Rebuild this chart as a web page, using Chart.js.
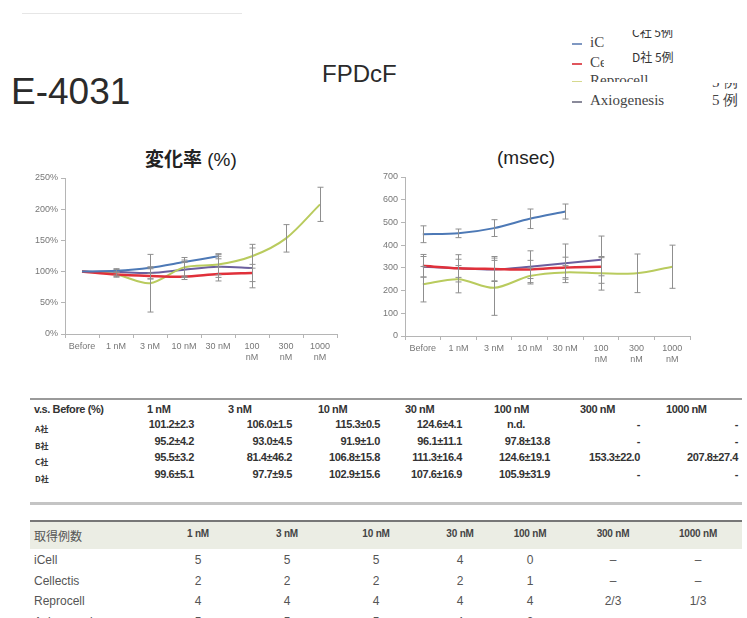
<!DOCTYPE html>
<html>
<head>
<meta charset="utf-8">
<script src="https://cdn.jsdelivr.net/npm/chart.js@4.4.1/dist/chart.umd.min.js"></script>
<style>
  body { margin: 0; width: 747px; height: 618px; background: #fff; overflow: hidden; position: relative;
         font-family: "Liberation Sans", Arial, sans-serif; color: #333; }
  .abs { position: absolute; white-space: nowrap; }
  .legend { font-family: "Liberation Serif", serif; font-size: 15px; color: #444; line-height: 18px; }
  .dash { display: inline-block; width: 10px; height: 2px; vertical-align: middle; margin-right: 8px; }
  .t1 { font-size: 11px; font-weight: bold; color: #333; letter-spacing: -0.4px; }
  .t1lab { font-size: 8px; font-weight: bold; color: #333; font-family: "Noto Sans CJK JP", sans-serif; }
  .t2 { font-size: 12px; color: #555; }
  .t2h { font-size: 10px; font-weight: bold; color: #444; letter-spacing: -0.2px; }
  .r { text-align: right; }
  .c { text-align: center; }
</style>
</head>
<body>
<div class="abs" style="left:22px;top:13px;width:220px;height:1px;background:#e6e6e6"></div>

<div class="abs" style="left:11px;top:74px;font-size:37px;line-height:36px;color:#2b2b2b">E-4031</div>
<div class="abs" style="left:322px;top:61px;font-size:24px;line-height:26px;color:#2b2b2b">FPDcF</div>

<!-- legend with pasted-over labels -->
<div class="abs legend" style="left:572px;top:33px"><span class="dash" style="background:#7f98c2"></span>iCell</div>
<div class="abs legend" style="left:572px;top:53px"><span class="dash" style="background:#e0555c"></span>Cellectis</div>
<div class="abs" style="left:572px;top:71px;height:11px;overflow:hidden">
  <div class="legend"><span class="dash" style="background:#d6d98e"></span>Reprocell</div>
</div>
<div class="abs legend" style="left:572px;top:91px"><span class="dash" style="background:#8a8a9a"></span>Axiogenesis</div>
<div class="abs legend" style="left:712px;top:91px">5 例</div>
<div class="abs" style="left:712px;top:83px;height:7px;overflow:hidden;width:30px">
  <div class="legend" style="margin-top:-10px">5 例</div>
</div>
<div class="abs" style="left:604px;top:24px;width:96px;height:45px;background:#fff"></div>
<div class="abs" style="left:632px;top:30px;height:10px;overflow:hidden">
  <div style="font-family:'Noto Sans CJK JP',sans-serif;font-size:12px;line-height:16px;color:#333;margin-top:-6px">C社 5例</div>
</div>
<div class="abs" style="left:632px;top:49px;font-family:'Noto Sans CJK JP',sans-serif;font-size:12px;line-height:16px;color:#333">D社 5例</div>

<!-- chart titles -->
<div class="abs" style="left:145px;top:146px;font-size:19px;line-height:24px;color:#222"><span style="font-family:'Noto Sans CJK JP',sans-serif;font-weight:bold">変化率</span> (%)</div>
<div class="abs" style="left:497px;top:146px;font-size:19px;line-height:24px;color:#222">(msec)</div>

<canvas id="rateChart" class="abs" style="left:10px;top:165px" width="340" height="210"></canvas>
<canvas id="msecChart" class="abs" style="left:360px;top:165px" width="340" height="210"></canvas>

<!-- table 1 -->
<div class="abs" style="left:30px;top:398px;width:712px;height:2px;background:#9a9a9a"></div>
<div id="table1"></div>
<div class="abs" style="left:30px;top:502px;width:712px;height:3px;background:#c4c4c4"></div>

<!-- table 2 -->
<div class="abs" style="left:30px;top:520px;width:712px;height:27px;background:#ebede4;border-top:2px solid #777"></div>
<div id="table2"></div>

<script>
const categories = ["Before", "1 nM", "3 nM", "10 nM", "30 nM", ["100", "nM"], ["300", "nM"], ["1000", "nM"]];
const seriesNames = ["iCell", "Cellectis", "Reprocell", "Axiogenesis"];
const seriesColors = ["#4d79b6", "#e0303a", "#b9cb5e", "#6b5f9e"];

// 変化率 (%) : mean and SD
const rateICell = [100, 101.2, 106.0, 115.3, 124.6, null, null, null];
const rateICellErr = [0, 2.3, 1.5, 0.5, 4.1, 0, 0, 0];
const rateCellectis = [100, 95.2, 93.0, 91.9, 96.1, 97.8, null, null];
const rateCellectisErr = [0, 4.2, 4.5, 1.0, 11.1, 13.8, 0, 0];
const rateReprocell = [100, 95.5, 81.4, 106.8, 111.3, 124.6, 153.3, 207.8];
const rateReprocellErr = [0, 3.2, 46.2, 15.8, 16.4, 19.1, 22.0, 27.4];
const rateAxio = [100, 99.6, 97.7, 102.9, 107.6, 105.9, null, null];
const rateAxioErr = [0, 5.1, 9.5, 15.6, 16.9, 31.9, 0, 0];

// FPDcF (msec)
const msecICell = [448, 452, 475, 516, 548, null, null, null];
const msecICellErr = [37, 19, 37, 43, 33, 0, 0, 0];
const msecCellectis = [309, 298, 295, 293, 302, 305, null, null];
const msecCellectisErr = [50, 60, 55, 40, 45, 40, 0, 0];
const msecReprocell = [228, 250, 212, 264, 280, 276, 276, 305];
const msecReprocellErr = [78, 60, 121, 35, 30, 74, 85, 95];
const msecAxio = [305, 298, 293, 305, 320, 336, null, null];
const msecAxioErr = [45, 40, 50, 70, 85, 104, 0, 0];

// tables
const tableDoses = ["1 nM", "3 nM", "10 nM", "30 nM", "100 nM", "300 nM", "1000 nM"];
const companyLabels = ["A社", "B社", "C社", "D社"];
const tableRows = [
  ["101.2±2.3", "106.0±1.5", "115.3±0.5", "124.6±4.1", "n.d.", "-", "-"],
  ["95.2±4.2", "93.0±4.5", "91.9±1.0", "96.1±11.1", "97.8±13.8", "-", "-"],
  ["95.5±3.2", "81.4±46.2", "106.8±15.8", "111.3±16.4", "124.6±19.1", "153.3±22.0", "207.8±27.4"],
  ["99.6±5.1", "97.7±9.5", "102.9±15.6", "107.6±16.9", "105.9±31.9", "-", "-"]
];
const countRows = [
  ["5", "5", "5", "4", "0", "–", "–"],
  ["2", "2", "2", "2", "1", "–", "–"],
  ["4", "4", "4", "4", "4", "2/3", "1/3"],
  ["5", "5", "5", "4", "2", "–", "–"]
];

function addText(parent, cls, text, left, top, style) {
  const d = document.createElement("div");
  d.className = "abs " + cls;
  d.textContent = text;
  d.style.left = left + "px";
  d.style.top = top + "px";
  if (style) Object.assign(d.style, style);
  parent.appendChild(d);
  return d;
}

// table 1: values right-aligned to these edges
const t1 = document.getElementById("table1");
const t1HeadX = [147, 228, 318, 405, 494, 580, 666];
const t1RightX = [194, 292, 380, 462, 550, 640, 738];
addText(t1, "t1", "v.s. Before (%)", 34, 403);
tableDoses.forEach((d, i) => addText(t1, "t1", d, t1HeadX[i], 403));
tableRows.forEach((row, r) => {
  addText(t1, "t1lab", companyLabels[r], 35, 423 + r * 16.5);
  row.forEach((v, c) => {
    let right = t1RightX[c];
    if (v === "n.d.") right = 525;
    const el = addText(t1, "t1 r", v, 0, 418 + r * 16.5, { width: "80px" });
    el.style.left = (right - 80) + "px";
  });
});

// table 2
const t2 = document.getElementById("table2");
const t2CenterX = [198, 287, 376, 460, 530, 613, 698];
addText(t2, "t2", "取得例数", 34, 527, { fontFamily: "'Noto Sans CJK JP', sans-serif", fontSize: "12px" });
tableDoses.forEach((d, i) => addText(t2, "t2h c", d, t2CenterX[i] - 40, 528, { width: "80px" }));
countRows.forEach((row, r) => {
  addText(t2, "t2", seriesNames[r], 34, 553 + r * 20.5);
  row.forEach((v, c) => addText(t2, "t2 c", v, t2CenterX[c] - 30, 553 + r * 20.5, { width: "60px" }));
});

const errorBarPlugin = {
  id: "errorBars",
  afterDatasetsDraw(chart) {
    const ctx = chart.ctx;
    const yScale = chart.scales.y;
    ctx.save();
    ctx.strokeStyle = "#8f8f8f";
    ctx.lineWidth = 1;
    chart.data.datasets.forEach((ds, i) => {
      const meta = chart.getDatasetMeta(i);
      meta.data.forEach((pt, j) => {
        const v = ds.data[j];
        const e = ds.errors[j];
        if (v == null || !e) return;
        const x = Math.round(pt.x) + 0.5;
        const top = yScale.getPixelForValue(v + e);
        const bot = yScale.getPixelForValue(v - e);
        ctx.beginPath();
        ctx.moveTo(x, top);
        ctx.lineTo(x, bot);
        ctx.moveTo(x - 3, top);
        ctx.lineTo(x + 3, top);
        ctx.moveTo(x - 3, bot);
        ctx.lineTo(x + 3, bot);
        ctx.stroke();
      });
    });
    ctx.restore();
  },
};

function makeDatasets(values, errors) {
  return values.map((data, i) => ({
    label: seriesNames[i],
    data,
    errors: errors[i],
    borderColor: seriesColors[i],
    borderWidth: i === 1 ? 2.5 : 2,
    pointRadius: 0,
    tension: 0.3,
    fill: false,
  }));
}

function makeChart(id, datasets, yOpts, axisWidth, axisHeight, padding) {
  return new Chart(document.getElementById(id), {
    type: "line",
    data: { labels: categories, datasets },
    plugins: [errorBarPlugin],
    options: {
      responsive: false,
      animation: false,
      layout: { padding },
      plugins: { legend: { display: false }, tooltip: { enabled: false } },
      scales: {
        x: {
          offset: true,
          grid: { offset: true, drawOnChartArea: false, tickLength: 4, color: "#b5b5b5" },
          border: { color: "#b5b5b5" },
          ticks: { color: "#777", font: { size: 9, family: "Liberation Sans" }, maxRotation: 0, autoSkip: false, padding: 3 },
          afterFit: (s) => { s.height = axisHeight; },
        },
        y: Object.assign({
          grid: { drawOnChartArea: false, tickLength: 4, color: "#b5b5b5" },
          border: { color: "#b5b5b5" },
          afterFit: (s) => { s.width = axisWidth; },
        }, yOpts),
      },
    },
  });
}

makeChart("rateChart",
  makeDatasets([rateICell, rateCellectis, rateReprocell, rateAxio],
               [rateICellErr, rateCellectisErr, rateReprocellErr, rateAxioErr]),
  {
    min: 0, max: 250,
    ticks: { stepSize: 50, color: "#777", font: { size: 9, family: "Liberation Sans" }, padding: 3,
             callback: (v) => v + "%" },
  },
  55, 41, { top: 13, right: 13, left: 0, bottom: 0 });

makeChart("msecChart",
  makeDatasets([msecICell, msecCellectis, msecReprocell, msecAxio],
               [msecICellErr, msecCellectisErr, msecReprocellErr, msecAxioErr]),
  {
    min: 0, max: 700,
    ticks: { stepSize: 100, color: "#777", font: { size: 9, family: "Liberation Sans" }, padding: 3 },
  },
  45, 39, { top: 12, right: 10, left: 0, bottom: 0 });
</script>
</body>
</html>
